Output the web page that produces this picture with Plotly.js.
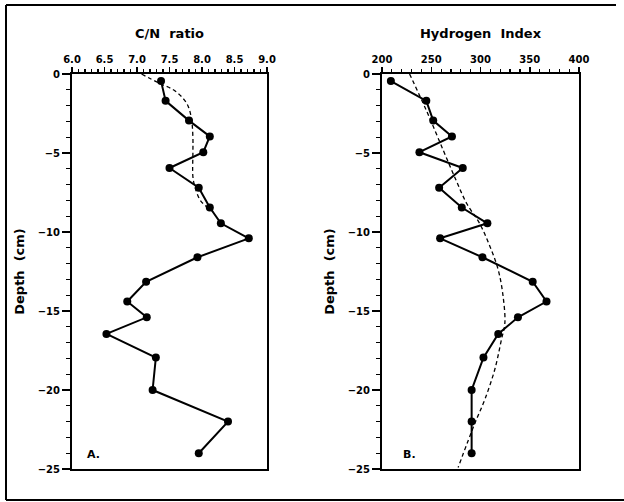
<!DOCTYPE html>
<html>
<head>
<meta charset="utf-8">
<script src="https://cdn.plot.ly/plotly-3.0.1.min.js"></script>
<style>
  html, body { margin: 0; padding: 0; background: #fff; overflow: hidden; }
  #chart { width: 624px; height: 502px; }
</style>
</head>
<body>
<div id="chart"></div>
<script>
// Sample depths (cm) shared by both profiles
const depth = [-0.45, -1.7, -2.95, -3.95, -4.95, -5.95, -7.2, -8.45, -9.45, -10.4,
               -11.6, -13.15, -14.4, -15.4, -16.45, -17.95, -20, -22, -24];

// Panel A: C/N ratio
const cnRatio = [7.37, 7.44, 7.80, 8.12, 8.02, 7.50, 7.95, 8.12, 8.29, 8.72,
                 7.93, 7.14, 6.85, 7.15, 6.53, 7.29, 7.24, 8.40, 7.95];

// Panel A: fitted trend (dashed)
const cnFitDepth = [0, -0.6, -1.0, -1.55, -2.07, -2.9, -4, -5, -6.5, -7.13, -7.97, -8.4, -8.7];
const cnFit = [7.07, 7.35, 7.56, 7.71, 7.79, 7.84, 7.86, 7.86, 7.86, 7.89, 7.97, 8.07, 8.17];

// Panel B: Hydrogen Index
const hIndex = [209, 245, 252, 271, 238, 282, 258, 281, 307, 259,
                302, 353, 367, 338, 318, 303, 291, 291, 291];

// Panel B: fitted trend (dashed)
const hiFitDepth = [0, -2.3, -4.8, -6.7, -8.2, -9.45, -10.9, -12.4, -14.1, -15.8,
                    -16.8, -18.7, -20.6, -22.1, -24.9];
const hiFit = [228, 245, 262, 275, 286, 299, 309.5, 318, 323, 324.7,
               321.3, 314.5, 304.4, 294.3, 277.3];

// Axis labels
const xTitleA = 'C/N\u00a0 ratio';
const xTitleB = 'Hydrogen\u00a0 Index';
const yTitle = 'Depth\u00a0 (cm)';
const panelA = 'A.';
const panelB = 'B.';

const FONT = 'DejaVu Sans, Liberation Sans, Arial, sans-serif';
const tickFont = { family: FONT, size: 10, color: '#000', weight: 'bold' };
const titleFont = { family: FONT, size: 13, color: '#000', weight: 'bold' };

const dataLine = { color: '#000', width: 2 };
const dataMarker = { color: '#000', size: 8 };
const fitLine = { color: '#000', width: 1.3, dash: '4px,3px', shape: 'spline', smoothing: 1 };

const traces = [
  { x: cnFit, y: cnFitDepth, xaxis: 'x', yaxis: 'y', mode: 'lines', line: fitLine, hoverinfo: 'skip' },
  { x: cnRatio, y: depth, xaxis: 'x', yaxis: 'y', mode: 'lines+markers', line: dataLine, marker: dataMarker },
  { x: hiFit, y: hiFitDepth, xaxis: 'x2', yaxis: 'y2', mode: 'lines', line: fitLine, hoverinfo: 'skip' },
  { x: hIndex, y: depth, xaxis: 'x2', yaxis: 'y2', mode: 'lines+markers', line: dataLine, marker: dataMarker }
];

function xAxis(domain, range, dtick, minorDtick, fmt, title, anchor) {
  return {
    domain: domain, range: range, side: 'top', anchor: anchor,
    dtick: dtick, tick0: range[0], tickformat: fmt,
    ticks: 'outside', ticklen: 5, tickwidth: 1.5, tickcolor: '#000',
    minor: { dtick: minorDtick, tick0: range[0], ticks: 'outside', ticklen: 3.5, tickwidth: 1.2, tickcolor: '#000', showgrid: false },
    showline: true, linecolor: '#000', linewidth: 2, mirror: true,
    showgrid: false, zeroline: false, tickfont: tickFont,
    title: { text: title, font: titleFont, standoff: 12 },
    fixedrange: true
  };
}

function yAxis(domain, anchor) {
  return {
    domain: domain, range: [-25, 0], anchor: anchor,
    dtick: 5, ticks: 'outside', ticklen: 8, tickwidth: 1.5, tickcolor: '#000',
    minor: { dtick: 1, ticks: 'outside', ticklen: 4.5, tickwidth: 1.2, tickcolor: '#000', showgrid: false },
    showline: true, linecolor: '#000', linewidth: 2, mirror: true,
    showgrid: false, zeroline: false, tickfont: tickFont,
    title: { text: yTitle, font: titleFont, standoff: 10 },
    fixedrange: true
  };
}

const yDomain = [1 - 469 / 502, 1 - 74 / 502];

// Outer frame: top, left and bottom edges (open on the right)
const frameLine = { color: '#000', width: 2 };
const frameLeft = 6 / 624, frameRight = 616 / 624, frameTop = 1 - 5 / 502, frameBottom = 2 / 502;

const layout = {
  width: 624, height: 502,
  margin: { l: 0, r: 0, t: 0, b: 0 },
  paper_bgcolor: '#fff', plot_bgcolor: '#fff',
  showlegend: false,
  xaxis: xAxis([72 / 624, 267 / 624], [6, 9], 0.5, 0.1, '.1f', xTitleA, 'y'),
  yaxis: yAxis(yDomain, 'x'),
  xaxis2: xAxis([382 / 624, 579 / 624], [200, 400], 50, 10, 'd', xTitleB, 'y2'),
  yaxis2: yAxis(yDomain, 'x2'),
  annotations: [
    { text: panelA, xref: 'x', yref: 'y', x: 6.2, y: -24.1, showarrow: false, xanchor: 'left',
      font: { family: FONT, size: 11, color: '#000', weight: 'bold' } },
    { text: panelB, xref: 'x2', yref: 'y2', x: 219, y: -24.1, showarrow: false, xanchor: 'left',
      font: { family: FONT, size: 11, color: '#000', weight: 'bold' } }
  ],
  shapes: [
    { type: 'line', xref: 'paper', yref: 'paper', x0: frameLeft, x1: frameRight, y0: frameTop, y1: frameTop, line: frameLine },
    { type: 'line', xref: 'paper', yref: 'paper', x0: frameLeft, x1: frameLeft, y0: frameBottom, y1: frameTop, line: frameLine },
    { type: 'line', xref: 'paper', yref: 'paper', x0: frameLeft, x1: 1, y0: frameBottom, y1: frameBottom, line: frameLine }
  ]
};

Plotly.newPlot('chart', traces, layout, { displayModeBar: false, staticPlot: true });
</script>
</body>
</html>
